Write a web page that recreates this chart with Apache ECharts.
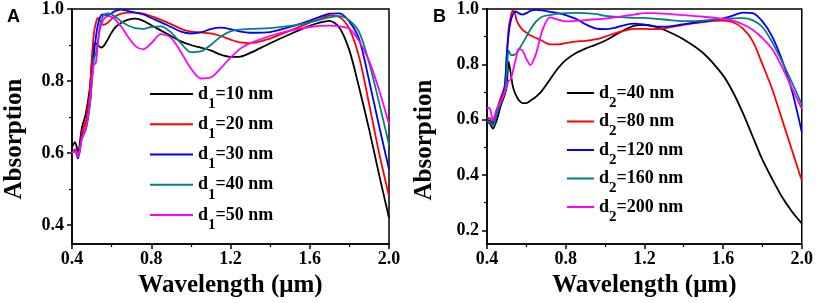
<!DOCTYPE html>
<html>
<head>
<meta charset="utf-8">
<script src="https://cdn.jsdelivr.net/npm/echarts/dist/echarts.min.js"></script>
<style>
  html, body { margin: 0; padding: 0; background: #fff; }
  #chart { width: 816px; height: 303px; }
</style>
</head>
<body>
<div id="chart"></div>
<script>
// wavelength grid (um), shared by all curves
var wavelength = [0.40, 0.415, 0.43, 0.45, 0.47, 0.49, 0.50, 0.51, 0.52, 0.53, 0.54, 0.55, 0.56, 0.58, 0.60, 0.62, 0.65, 0.68, 0.72, 0.76,
  0.80, 0.85, 0.90, 0.95, 1.00, 1.05, 1.10, 1.15, 1.20, 1.25, 1.30, 1.40, 1.50, 1.60, 1.65, 1.70, 1.75, 1.80, 1.85, 1.90, 1.95, 2.00];

// panel A: d1 thickness
var d1Values = [10, 20, 30, 40, 50];
var absA10 = [0.615, 0.63, 0.605, 0.67, 0.71, 0.78, 0.85, 0.90, 0.905, 0.90, 0.895, 0.893, 0.897, 0.915, 0.935, 0.95, 0.962, 0.97, 0.973, 0.967,
  0.955, 0.94, 0.925, 0.91, 0.90, 0.893, 0.885, 0.873, 0.867, 0.868, 0.878, 0.905, 0.93, 0.953, 0.962, 0.967, 0.948, 0.885, 0.78, 0.665, 0.54, 0.42];
var absA20 = [0.60, 0.61, 0.595, 0.655, 0.69, 0.77, 0.86, 0.93, 0.96, 0.975, 0.968, 0.96, 0.956, 0.962, 0.972, 0.98, 0.987, 0.99, 0.99, 0.987,
  0.98, 0.97, 0.958, 0.945, 0.937, 0.935, 0.932, 0.925, 0.915, 0.907, 0.905, 0.918, 0.94, 0.962, 0.972, 0.982, 0.978, 0.945, 0.865, 0.735, 0.60, 0.48];
var absA30 = [0.60, 0.605, 0.585, 0.645, 0.67, 0.74, 0.80, 0.87, 0.92, 0.955, 0.975, 0.984, 0.985, 0.982, 0.988, 0.995, 0.998, 0.995, 0.99, 0.985,
  0.975, 0.963, 0.95, 0.937, 0.932, 0.935, 0.944, 0.948, 0.944, 0.937, 0.934, 0.936, 0.95, 0.968, 0.978, 0.987, 0.988, 0.965, 0.915, 0.80, 0.675, 0.555];
var absA40 = [0.60, 0.605, 0.59, 0.64, 0.665, 0.73, 0.80, 0.86, 0.875, 0.91, 0.95, 0.972, 0.983, 0.988, 0.985, 0.978, 0.965, 0.955, 0.947, 0.945,
  0.95, 0.952, 0.935, 0.905, 0.88, 0.882, 0.90, 0.923, 0.938, 0.943, 0.945, 0.947, 0.953, 0.963, 0.97, 0.977, 0.98, 0.968, 0.935, 0.85, 0.74, 0.623];
var absA50 = [0.60, 0.605, 0.59, 0.64, 0.67, 0.74, 0.80, 0.845, 0.85, 0.90, 0.94, 0.96, 0.972, 0.98, 0.978, 0.97, 0.95, 0.925, 0.897, 0.888,
  0.905, 0.93, 0.92, 0.88, 0.835, 0.807, 0.81, 0.835, 0.865, 0.89, 0.905, 0.925, 0.94, 0.95, 0.953, 0.954, 0.952, 0.945, 0.91, 0.855, 0.775, 0.68];

// panel B: d2 thickness
var d2Values = [40, 80, 120, 160, 200];
var absB40 = [0.595, 0.585, 0.568, 0.60, 0.65, 0.69, 0.72, 0.81, 0.77, 0.725, 0.70, 0.685, 0.672, 0.66, 0.66, 0.668, 0.683, 0.705, 0.745, 0.785,
  0.815, 0.84, 0.857, 0.87, 0.885, 0.905, 0.925, 0.94, 0.943, 0.937, 0.925, 0.89, 0.84, 0.76, 0.70, 0.625, 0.54, 0.455, 0.385, 0.32, 0.268, 0.225];
var absB80 = [0.606, 0.605, 0.59, 0.635, 0.68, 0.72, 0.82, 0.93, 0.97, 0.993, 0.99, 0.96, 0.945, 0.925, 0.915, 0.905, 0.895, 0.885, 0.872, 0.872,
  0.877, 0.882, 0.885, 0.89, 0.90, 0.912, 0.922, 0.928, 0.928, 0.927, 0.93, 0.943, 0.953, 0.958, 0.952, 0.93, 0.885, 0.80, 0.71, 0.60, 0.49, 0.38];
var absB120 = [0.60, 0.595, 0.585, 0.625, 0.665, 0.72, 0.83, 0.91, 0.955, 0.978, 0.99, 0.99, 0.985, 0.98, 0.985, 0.993, 0.997, 0.995, 0.99, 0.985,
  0.978, 0.965, 0.945, 0.93, 0.927, 0.932, 0.942, 0.947, 0.943, 0.937, 0.936, 0.945, 0.955, 0.966, 0.976, 0.987, 0.985, 0.955, 0.90, 0.815, 0.705, 0.555];
var absB160 = [0.595, 0.59, 0.578, 0.62, 0.66, 0.70, 0.76, 0.85, 0.835, 0.833, 0.835, 0.84, 0.85, 0.875, 0.90, 0.925, 0.955, 0.972, 0.978, 0.983,
  0.985, 0.986, 0.985, 0.982, 0.975, 0.972, 0.97, 0.968, 0.968, 0.965, 0.962, 0.956, 0.958, 0.964, 0.966, 0.967, 0.96, 0.935, 0.88, 0.81, 0.735, 0.655];
var absB200 = [0.643, 0.64, 0.60, 0.64, 0.665, 0.70, 0.72, 0.74, 0.745, 0.77, 0.80, 0.83, 0.855, 0.85, 0.82, 0.797, 0.84, 0.92, 0.97, 0.962,
  0.955, 0.957, 0.96, 0.963, 0.965, 0.97, 0.975, 0.98, 0.985, 0.985, 0.983, 0.978, 0.972, 0.964, 0.958, 0.945, 0.925, 0.895, 0.855, 0.79, 0.715, 0.64];

var colors = ['#000000', '#ff0000', '#0000ff', '#008080', '#ff00ff'];
var xTicks = [0.4, 0.8, 1.2, 1.6, 2.0];
var yTicksA = [0.4, 0.6, 0.8, 1.0];
var yMinorA = [0.5, 0.7, 0.9];
var yTicksB = [0.2, 0.4, 0.6, 0.8, 1.0];
var yMinorB = [0.3, 0.5, 0.7, 0.9];

var serif = '"Liberation Serif", "Times New Roman", serif';

function pairs(ys) {
  return wavelength.map(function (w, i) { return [w, ys[i]]; });
}

function makeXAxis(gridIndex) {
  return {
    type: 'value', gridIndex: gridIndex, min: 0.4, max: 2.0, interval: 0.4,
    name: 'Wavelength (\u03bcm)', nameLocation: 'middle', nameGap: 21,
    nameTextStyle: {fontFamily: serif, fontWeight: 'bold', fontSize: 25, color: '#000'},
    axisLine: {lineStyle: {color: '#000', width: 1.5}},
    axisTick: {length: 5, lineStyle: {width: 1.5}},
    minorTick: {show: true, splitNumber: 2, length: 3, lineStyle: {color: '#000', width: 1.2}},
    splitLine: {show: false},
    axisLabel: {
      customValues: xTicks, margin: 6, color: '#000', fontFamily: serif, fontWeight: 'bold', fontSize: 18,
      formatter: function (v) { return v.toFixed(1); }
    }
  };
}

function makeYAxes(gridIndex, min, ticks, minor) {
  return [{
    type: 'value', gridIndex: gridIndex, min: min, max: 1.0,
    axisLine: {show: true, lineStyle: {color: '#000', width: 1.5}},
    axisTick: {show: true, customValues: ticks, length: 5, lineStyle: {width: 1.5}},
    splitLine: {show: false},
    axisLabel: {
      customValues: ticks, margin: 8, color: '#000', fontFamily: serif, fontWeight: 'bold', fontSize: 18,
      formatter: function (v) { return v.toFixed(1); }
    }
  }, {
    type: 'value', gridIndex: gridIndex, min: min, max: 1.0, position: 'left',
    axisLine: {show: false},
    axisTick: {show: true, customValues: minor, length: 3, lineStyle: {color: '#000', width: 1.2}},
    splitLine: {show: false},
    axisLabel: {show: false}
  }];
}

function makeSeries(names, data, xIndex, yIndex) {
  return data.map(function (ys, i) {
    return {
      name: names[i], type: 'line', xAxisIndex: xIndex, yAxisIndex: yIndex,
      data: pairs(ys), smooth: 0.3, symbol: 'none',
      lineStyle: {color: colors[i], width: 1.8}, itemStyle: {color: colors[i]}
    };
  });
}

var namesA = d1Values.map(function (t) { return 'd1=' + t + ' nm'; });
var namesB = d2Values.map(function (t) { return 'd2=' + t + ' nm'; });

// subscript: padded token sits lower than the main text
var rich = {
  m: {fontFamily: serif, fontWeight: 'bold', fontSize: 18, lineHeight: 18, color: '#000', verticalAlign: 'middle'},
  s: {fontFamily: serif, fontWeight: 'bold', fontSize: 15, lineHeight: 15, color: '#000', verticalAlign: 'middle', padding: [20, 0, 0, 0]}
};

function makeLegend(names, left, top, width, gap) {
  return {
    data: names, orient: 'vertical', left: left, top: top, padding: 0,
    icon: 'rect', itemWidth: width, itemHeight: 2, itemGap: gap,
    textStyle: {rich: rich},
    formatter: function (name) {
      var sub = name.charAt(1);
      return '{m|d}{s|' + sub + '}{m|' + name.slice(2) + '}';
    }
  };
}

var chart = echarts.init(document.getElementById('chart'));
var yAxesA = makeYAxes(0, 0.347, yTicksA, yMinorA);
var yAxesB = makeYAxes(1, 0.15, yTicksB, yMinorB);

chart.setOption({
  animation: false,
  backgroundColor: '#fff',
  grid: [
    {left: 72, top: 9, width: 317, height: 236, show: true, borderColor: '#000', borderWidth: 1.5},
    {left: 487, top: 9, width: 316, height: 236, show: true, borderColor: '#000', borderWidth: 1.5}
  ],
  xAxis: [makeXAxis(0), makeXAxis(1)],
  yAxis: yAxesA.concat(yAxesB),
  legend: [
    makeLegend(namesA, 150, 76.5, 43, -4.75),
    makeLegend(namesB, 567, 75.5, 27, -6.5)
  ],
  graphic: [
    {type: 'text', x: 7, y: 17, style: {text: 'A', font: 'bold 18px "Liberation Sans", Arial, sans-serif', fill: '#000', verticalAlign: 'middle'}},
    {type: 'text', x: 433, y: 17, style: {text: 'B', font: 'bold 18px "Liberation Sans", Arial, sans-serif', fill: '#000', verticalAlign: 'middle'}},
    {type: 'text', x: 15, y: 139, rotation: Math.PI / 2, style: {text: 'Absorption', font: 'bold 25px ' + serif, fill: '#000', align: 'center', verticalAlign: 'middle'}},
    {type: 'text', x: 425, y: 140, rotation: Math.PI / 2, style: {text: 'Absorption', font: 'bold 25px ' + serif, fill: '#000', align: 'center', verticalAlign: 'middle'}}
  ],
  series: makeSeries(namesA, [absA10, absA20, absA30, absA40, absA50], 0, 0)
    .concat(makeSeries(namesB, [absB40, absB80, absB120, absB160, absB200], 1, 2))
});
</script>
</body>
</html>
